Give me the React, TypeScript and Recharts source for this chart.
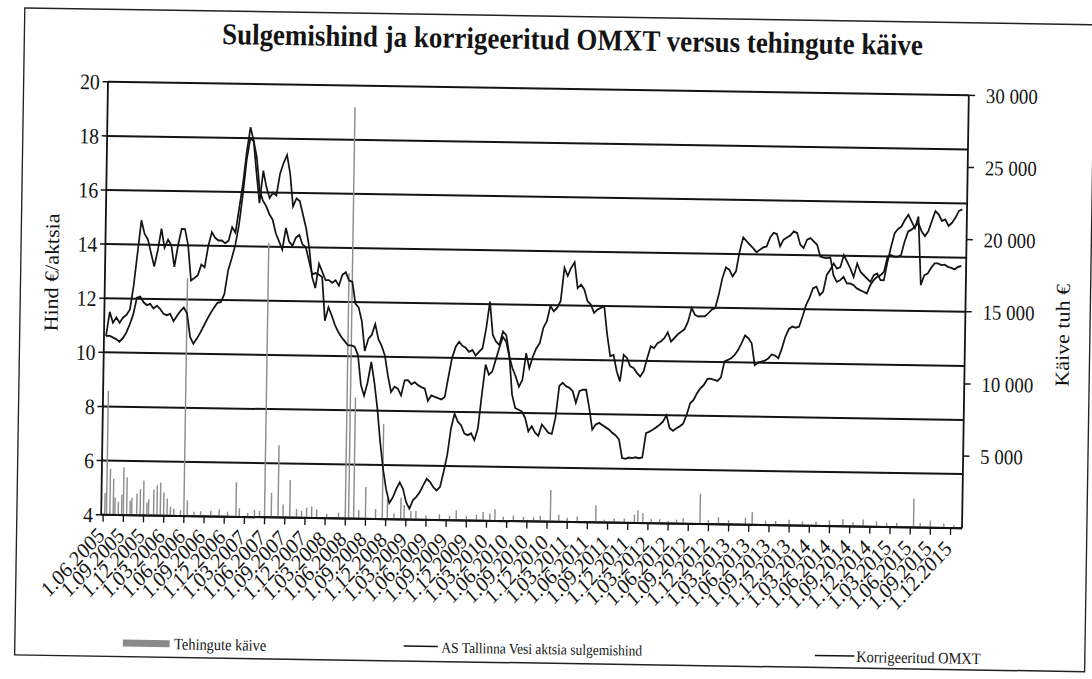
import React from "react";
import { Bar, CartesianGrid, ComposedChart, Line, XAxis, YAxis } from "recharts";

// x = kuud alates 1.06.2005; hinnad on antud iga poole kuu kohta
const quarterLabels = [
  "1.06.2005", "1.09.2005", "1.12.2005", "1.03.2006", "1.06.2006", "1.09.2006", "1.12.2006",
  "1.03.2007", "1.06.2007", "1.09.2007", "1.12.2007", "1.03.2008", "1.06.2008", "1.09.2008",
  "1.12.2008", "1.03.2009", "1.06.2009", "1.09.2009", "1.12.2009", "1.03.2010", "1.06.2010",
  "1.09.2010", "1.12.2010", "1.03.2011", "1.06.2011", "1.09.2011", "1.12.2011", "1.03.2012",
  "1.06.2012", "1.09.2012", "1.12.2012", "1.03.2013", "1.06.2013", "1.09.2013", "1.12.2013",
  "1.03.2014", "1.06.2014", "1.09.2014", "1.12.2014", "1.03.2015", "1.06.2015", "1.09.2015",
  "1.12.2015",
];

const priceTicks = [4, 6, 8, 10, 12, 14, 16, 18, 20];
const turnoverTicks = [5000, 10000, 15000, 20000, 25000, 30000];

// AS Tallinna Vesi aktsia sulgemishind
const vesiPrice = [
  10.6, 11.5, 11.1, 11.3, 11.1, 11.3, 11.4, 11.6, 12.5, 13.7,
  14.9, 14.4, 14.2, 13.7, 13.2, 13.8, 14.6, 13.9, 14.2, 14.0,
  13.2, 14.0, 14.6, 14.6, 14.0, 12.7, 12.8, 12.9, 13.3, 13.2,
  14.0, 14.5, 14.3, 14.2, 14.2, 14.1, 14.2, 14.7, 14.5, 15.4,
  16.3, 17.5, 18.4, 17.9, 16.7, 15.6, 16.8, 16.2, 15.8, 16.0,
  15.9, 16.7, 17.1, 17.4, 16.7, 15.5, 15.8, 15.7, 15.2, 14.7,
  14.0, 12.9, 12.5, 13.4, 13.1, 12.8, 12.8, 12.7, 12.8, 12.6,
  13.0, 13.1, 12.8, 12.75, 11.95, 11.8, 11.3, 10.2, 10.65, 10.8,
  11.2, 10.65, 10.4, 10.05, 9.3, 8.7, 8.9, 8.83, 8.58, 9.14,
  9.15, 9.0, 9.08, 8.97, 8.9, 8.85, 8.4, 8.6, 8.55, 8.5,
  8.46, 8.55, 9.3, 10.0, 10.4, 10.6, 10.45, 10.38, 10.23, 10.3,
  10.1, 10.24, 10.37, 11.1, 12.1, 10.87, 10.62, 10.5, 11.0, 10.87,
  10.14, 8.67, 8.18, 8.12, 8.06, 7.82, 7.33, 7.52, 7.28, 7.17,
  7.59, 7.44, 7.28, 7.25, 7.84, 9.02, 9.14, 9.02, 8.96, 8.84,
  8.41, 8.84, 8.9, 8.9, 8.23, 7.43, 7.62, 7.68, 7.6, 7.52,
  7.44, 7.32, 7.23, 7.08, 6.4, 6.37, 6.42, 6.4, 6.43, 6.4,
  6.43, 7.33, 7.39, 7.46, 7.55, 7.65, 7.77, 8.0, 7.53, 7.43,
  7.53, 7.6, 7.7, 8.03, 8.46, 8.59, 8.84, 9.02, 9.15, 9.37,
  9.38, 9.34, 9.3, 9.43, 10.02, 10.08, 10.15, 10.27, 10.46, 10.71,
  11.0, 10.9, 10.71, 9.91, 10.01, 10.04, 10.08, 10.16, 10.31, 10.27,
  10.17, 10.54, 10.98, 11.26, 11.35, 11.31, 11.35, 11.73, 12.16, 12.43,
  12.78, 12.84, 12.53, 12.66, 13.28, 13.47, 13.71, 13.52, 13.58, 14.02,
  13.78, 13.53, 13.22, 13.72, 13.42, 13.29, 13.17, 13.05, 13.3, 13.36,
  13.12, 13.12, 13.8, 14.36, 14.86, 15.02, 15.11, 15.36, 15.55, 15.3,
  15.06, 15.49, 12.96, 13.33, 13.39, 13.6, 13.77, 13.77, 13.71, 13.73,
  13.65, 13.61, 13.56, 13.65, 13.69,
];

// Korrigeeritud OMXT
const omxtAdj = [
  10.6, 10.62, 10.56, 10.5, 10.4, 10.53, 10.74, 11.05, 11.42, 12.04,
  12.08, 11.87, 11.77, 11.82, 11.65, 11.75, 11.63, 11.46, 11.41, 11.46,
  11.19, 11.39, 11.57, 11.7, 11.48, 10.62, 10.37, 10.56, 10.78, 11.03,
  11.28, 11.52, 11.72, 11.9, 11.92, 12.23, 13.1, 13.54, 14.03, 14.77,
  15.88, 17.18, 17.99, 17.9, 17.3, 16.1, 15.7, 15.5, 15.2, 15.0,
  14.5, 14.2, 13.9, 14.7, 14.2, 14.05, 14.35, 14.45, 14.1, 14.0,
  13.5, 13.0, 13.05, 13.0, 12.9, 11.3, 11.8, 11.5, 11.15, 10.9,
  10.7, 10.55, 10.4, 10.4, 10.35, 10.05, 8.95, 8.55, 9.05, 9.8,
  9.05, 8.1, 6.85, 5.85, 5.1, 4.6, 4.8, 5.12, 5.37, 5.13,
  4.64, 4.4, 4.71, 4.84, 5.02, 5.27, 5.52, 5.4, 5.21, 5.09,
  5.22, 5.78, 6.4, 7.39, 7.94, 7.64, 7.51, 7.21, 7.15, 7.22,
  6.97, 7.41, 8.65, 9.77, 9.4, 9.52, 9.96, 10.4, 10.8, 10.63,
  10.08, 9.65, 9.34, 8.97, 9.22, 10.21, 9.66, 10.09, 10.4, 10.6,
  11.16, 11.41, 11.97, 11.78, 11.91, 12.16, 13.39, 13.09, 13.4, 13.6,
  12.65, 12.78, 12.6, 12.17, 12.05, 11.74, 11.87, 11.93, 12.0, 10.95,
  10.15, 10.2, 9.6, 9.23, 10.21, 10.09, 9.79, 9.73, 9.55, 9.42,
  9.61, 10.1, 10.54, 10.48, 10.66, 10.73, 10.85, 11.07, 10.73, 10.86,
  11.0, 11.1, 11.2, 11.48, 11.98, 11.73, 11.67, 11.68, 11.68, 11.8,
  11.93, 11.99, 12.49, 13.11, 13.5, 13.42, 13.17, 13.36, 14.1, 14.62,
  14.48, 14.35, 14.23, 14.08, 14.17, 14.26, 14.3, 14.63, 14.8, 14.76,
  14.31, 14.56, 14.64, 14.72, 14.87, 14.81, 14.38, 14.26, 14.57, 14.63,
  14.51, 14.39, 13.96, 13.92, 13.9, 13.92, 13.27, 13.03, 13.09, 13.22,
  12.98, 12.98, 12.92, 12.8, 12.74, 12.68, 12.62, 12.93, 13.12, 13.24,
  13.3, 13.43, 13.99, 14.05, 13.99, 13.99, 14.06, 14.56, 14.93, 15.0,
  15.12, 15.25, 14.95, 14.77, 14.95, 15.33, 15.7, 15.58, 15.34, 15.4,
  15.16, 15.28, 15.47, 15.72, 15.78,
];

// Tehingute käive (tuh €): [kuu alates 1.06.2005, käive]
const turnoverSpikes: [number, number][] = [
  [0.25, 1500], [0.5, 8600], [1.0, 3200], [1.5, 2500], [1.75, 1200], [2.25, 900], [2.75, 1400],
  [3.0, 3300], [3.5, 2600], [4.0, 1000], [4.25, 1200], [5.0, 1500], [5.5, 1800], [6.0, 2400],
  [6.5, 900], [6.75, 1100], [7.5, 1800], [8.0, 2100], [8.5, 2300], [9.0, 1600], [9.5, 1200],
  [10.0, 650], [10.5, 500], [11.5, 400], [12.0, 16500], [12.5, 1100], [13.5, 300], [14.5, 350],
  [16.0, 400], [17.25, 500], [18.5, 350], [19.75, 2400], [20.25, 600], [21.5, 300], [22.5, 500],
  [23.25, 450], [24.0, 19000], [25.0, 1700], [26.0, 5000], [26.75, 900], [27.75, 2600],
  [28.75, 600], [29.5, 500], [30.25, 700], [31.0, 800], [31.75, 600], [33.25, 300], [35.0, 400],
  [36.0, 17000], [36.5, 28500], [37.25, 8400], [38.0, 600], [39.0, 2200], [40.5, 700],
  [41.5, 6600], [42.25, 1400], [43.25, 400], [44.25, 1500], [44.75, 1000], [45.75, 600],
  [46.5, 600], [48.0, 300], [50.0, 400], [51.5, 300], [52.5, 700], [54.0, 300], [55.5, 400],
  [56.5, 600], [57.5, 500], [58.25, 800], [59.5, 300], [61.0, 400], [62.5, 300], [64.0, 300],
  [65.0, 400], [66.5, 2200], [67.75, 500], [69.0, 300], [70.5, 400], [73.25, 1200], [74.5, 200],
  [76.0, 300], [77.5, 300], [79.0, 600], [79.5, 900], [80.25, 700], [81.5, 300], [82.75, 300],
  [84.0, 200], [85.25, 300], [86.25, 400], [88.75, 2100], [90.0, 300], [91.5, 500], [93.0, 300],
  [95.5, 500], [96.5, 900], [98.5, 300], [100.0, 300], [102.0, 400], [104.0, 300], [106.0, 300],
  [108.0, 400], [110.0, 500], [111.5, 300], [113.0, 500], [115.0, 400], [116.5, 300],
  [118.0, 300], [120.5, 2000], [121.5, 300], [123.0, 500], [125.0, 300], [126.5, 200],
];

const serif = "'Liberation Serif', 'Times New Roman', serif";
const ink = "#141414";

// tabel veerandkuu sammuga, et tulbad saaksid ühtlase laiuse
const turnoverByStep = new Map(turnoverSpikes.map(([m, v]) => [Math.round(m * 4), v]));
const rows: { t: number; vesi: number | null; omxt: number | null; kaive: number | null }[] = [];
for (let k = 0; k <= (vesiPrice.length - 1) * 2; k++) {
  const even = k % 2 === 0;
  rows.push({
    t: k / 4,
    vesi: even ? vesiPrice[k / 2] : null,
    omxt: even ? omxtAdj[k / 2] : null,
    kaive: turnoverByStep.get(k) ?? null,
  });
}

const fmtThousands = (v: number) => String(v).replace(/\B(?=(\d{3})+(?!\d))/g, " ");

function DateTick({ x, y, payload }: any) {
  const ax = x + 3;
  const ay = y + 13;
  return (
    <text
      x={ax}
      y={ay}
      textAnchor="end"
      transform={`rotate(-45 ${ax} ${ay})`}
      fontSize={22}
      fontFamily={serif}
      fill={ink}
    >
      {quarterLabels[Math.round(payload.value / 3)]}
    </text>
  );
}

const W = 1300;
const H = 679;

export default function App() {
  return (
    <div style={{ position: "absolute", left: 0, top: 0, width: 1092, height: 679, overflow: "hidden", background: "#fff" }}>
      <div
        style={{
          position: "absolute",
          left: -60,
          top: 0,
          width: W,
          height: H,
          transform: "rotate(0.9deg) scaleX(0.9)",
          transformOrigin: "595px 305px",
        }}
      >
        <ComposedChart width={W} height={H} data={rows} margin={{ top: 88.5, right: 0, bottom: 0, left: 0 }}>
          <CartesianGrid yAxisId="left" vertical={false} stroke={ink} strokeWidth={2} />
          <XAxis
            dataKey="t"
            type="number"
            domain={[-0.3, 127.7]}
            ticks={quarterLabels.map((_, i) => i * 3)}
            interval={0}
            height={157.5}
            tick={<DateTick />}
            tickSize={7}
            axisLine={{ stroke: ink, strokeWidth: 2 }}
            tickLine={{ stroke: ink, strokeWidth: 1.5 }}
            allowDataOverflow
          />
          <YAxis
            yAxisId="left"
            domain={[4, 20]}
            ticks={priceTicks}
            width={116.7}
            tickSize={6}
            tickMargin={3}
            tick={{ fontSize: 22, fill: ink, fontFamily: serif }}
            axisLine={{ stroke: ink, strokeWidth: 2 }}
            tickLine={{ stroke: ink, strokeWidth: 1.5 }}
          />
          <YAxis
            yAxisId="right"
            orientation="right"
            domain={[0, 30000]}
            ticks={turnoverTicks}
            width={226.7}
            tickSize={7}
            tickMargin={12}
            tickFormatter={fmtThousands}
            tick={{ fontSize: 21, fill: ink, fontFamily: serif }}
            axisLine={{ stroke: ink, strokeWidth: 2 }}
            tickLine={{ stroke: ink, strokeWidth: 1.5 }}
          />
          <Bar yAxisId="right" dataKey="kaive" fill="#8e8e8e" barSize={1.6} isAnimationActive={false} />
          <Line
            yAxisId="left"
            type="linear"
            dataKey="vesi"
            stroke={ink}
            strokeWidth={1.9}
            dot={false}
            connectNulls
            isAnimationActive={false}
          />
          <Line
            yAxisId="left"
            type="linear"
            dataKey="omxt"
            stroke={ink}
            strokeWidth={1.9}
            dot={false}
            connectNulls
            isAnimationActive={false}
          />
        </ComposedChart>
        <svg width={W} height={H} style={{ position: "absolute", left: 0, top: 0, pointerEvents: "none" }} fontFamily={serif}>
          <rect x={23} y={16} width={1189} height={647} fill="none" stroke="#222" strokeWidth={1.5} />
          <text x={632} y={49} textAnchor="middle" fontSize={30} fontWeight="bold" fill={ink}>
            Sulgemishind ja korrigeeritud OMXT versus tehingute käive
          </text>
          <text transform="translate(65,280) rotate(-90)" textAnchor="middle" fontSize={22} fill={ink}>
            Hind €/aktsia
          </text>
          <text transform="translate(1189,327) rotate(-90)" textAnchor="middle" fontSize={22} fill={ink}>
            Käive tuh €
          </text>
          <rect x={143} y={646} width={52} height={7} fill="#8a8a8a" />
          <text x={200} y={655} fontSize={16} fill={ink}>Tehingute käive</text>
          <line x1={455} y1={648} x2={493} y2={648} stroke={ink} strokeWidth={1.5} />
          <text x={497} y={654} fontSize={15} fill={ink}>AS Tallinna Vesi aktsia sulgemishind</text>
          <line x1={912} y1={651} x2={956} y2={651} stroke={ink} strokeWidth={1.5} />
          <text x={958} y={657} fontSize={16} fill={ink}>Korrigeeritud OMXT</text>
        </svg>
      </div>
    </div>
  );
}
